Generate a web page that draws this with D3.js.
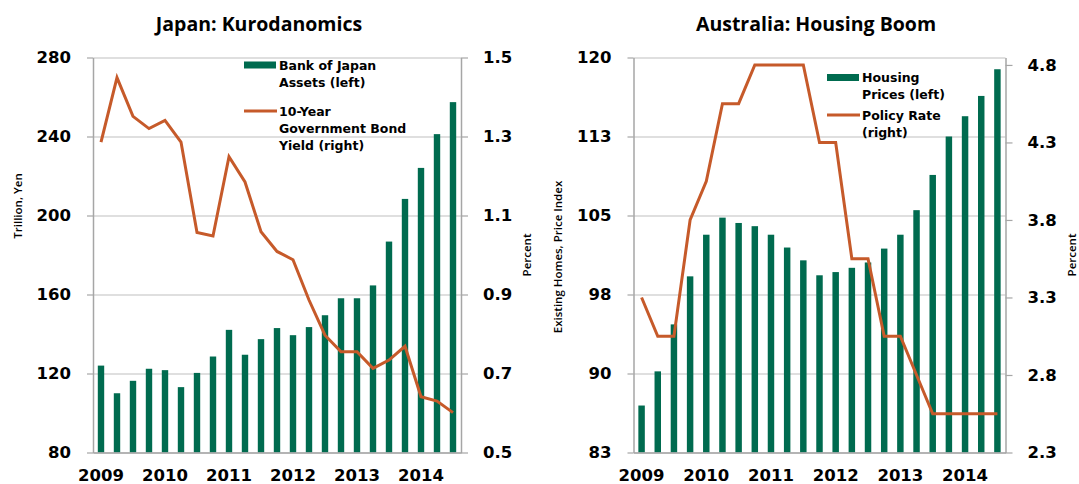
<!DOCTYPE html>
<html>
<head>
<meta charset="utf-8">
<script src="https://cdn.jsdelivr.net/npm/d3@7"></script>
<style>
  html, body { margin: 0; padding: 0; background: #ffffff; }
  svg { display: block; }
</style>
</head>
<body>
<svg id="chart" width="1079" height="484"></svg>
<script>
// ---------------- DATA ----------------
const quarters = ["2009Q1","2009Q2","2009Q3","2009Q4","2010Q1","2010Q2","2010Q3","2010Q4",
  "2011Q1","2011Q2","2011Q3","2011Q4","2012Q1","2012Q2","2012Q3","2012Q4",
  "2013Q1","2013Q2","2013Q3","2013Q4","2014Q1","2014Q2","2014Q3"];
const yearTickQuarters = ["2009Q1","2010Q1","2011Q1","2012Q1","2013Q1","2014Q1"];
const yearLabels = ["2009","2010","2011","2012","2013","2014"];

// Japan
const japanAssets = [124, 110, 116.3, 122.4, 121.7, 113.1, 120.3, 128.6, 142.1, 129.5, 137.4, 143,
  139.4, 143.5, 149.5, 158.1, 158.1, 164.6, 186.8, 208.4, 224.1, 241.2, 257.4];
const japanYield = [1.286, 1.449, 1.351, 1.320, 1.341, 1.286, 1.057, 1.048, 1.249, 1.185, 1.059, 1.009,
  0.988, 0.886, 0.797, 0.755, 0.755, 0.713, 0.734, 0.769, 0.641, 0.630, 0.601];
const japanLeftTicks = [80, 120, 160, 200, 240, 280];
const japanLeftLabels = ["80", "120", "160", "200", "240", "280"];
const japanRightTicks = [0.5, 0.7, 0.9, 1.1, 1.3, 1.5];
const japanRightLabels = ["0.5", "0.7", "0.9", "1.1", "1.3", "1.5"];

// Australia
const ausPrices = [87.4, 90.6, 95.0, 99.5, 103.4, 105.0, 104.5, 104.2, 103.4, 102.2, 101.0, 99.6,
  99.9, 100.3, 100.8, 102.1, 103.4, 105.7, 109.0, 112.6, 114.5, 116.4, 118.9];
const ausRate = [3.3, 3.05, 3.05, 3.8, 4.05, 4.55, 4.55, 4.8, 4.8, 4.8, 4.8, 4.3,
  4.3, 3.55, 3.55, 3.05, 3.05, 2.8, 2.55, 2.55, 2.55, 2.55, 2.55];
const ausLeftTicks = [83, 90.4, 97.8, 105.2, 112.6, 120];
const ausLeftLabels = ["83", "90", "98", "105", "113", "120"];
const ausRightTicks = [2.3, 2.8, 3.3, 3.8, 4.3, 4.8];
const ausRightLabels = ["2.3", "2.8", "3.3", "3.8", "4.3", "4.8"];

// ---------------- STYLE ----------------
const BAR = "#006b4f";
const LINE = "#c65a2a";
const GRID = "#c0c0c0";
const AXIS = "#a6a6a6";
const NUMFONT = "'DejaVu Sans', Verdana, sans-serif";
const TXTFONT = "'Open Sans', sans-serif";

const svg = d3.select("#chart");

function panel(cfg) {
  const g = svg.append("g");
  const x = d3.scaleBand().domain(quarters).range([cfg.x0, cfg.x1])
    .paddingInner(0.6).paddingOuter(0.3);
  const yL = d3.scaleLinear().domain(cfg.leftDomain).range([cfg.y1, cfg.y0]);
  const yR = d3.scaleLinear().domain(cfg.rightDomain).range([cfg.y1, cfg.y0]);
  const w = cfg.x1 - cfg.x0;

  // gridlines
  const grid = g.append("g").attr("transform", `translate(${cfg.x0},0)`)
    .call(d3.axisLeft(yL).tickValues(cfg.leftTicks).tickSize(-w).tickFormat(""));
  grid.select(".domain").remove();
  grid.selectAll("line").attr("stroke", GRID).attr("stroke-width", 1.2);

  // bars
  g.append("g").selectAll("rect").data(cfg.bars).join("rect")
    .attr("x", (d, i) => x(quarters[i]))
    .attr("width", x.bandwidth())
    .attr("y", d => yL(d))
    .attr("height", d => yL(cfg.leftDomain[0]) - yL(d))
    .attr("fill", BAR);

  // bottom axis line
  const xa = g.append("g").attr("transform", `translate(0,${cfg.y1})`)
    .call(d3.axisBottom(x).tickValues(yearTickQuarters)
      .tickFormat((d) => yearLabels[yearTickQuarters.indexOf(d)])
      .tickSize(0).tickPadding(17).tickSizeOuter(0));
  xa.select(".domain").attr("stroke", AXIS).attr("stroke-width", 1.5);
  xa.selectAll("text").attr("font-family", NUMFONT).attr("font-weight", "bold")
    .attr("font-size", 16.5).attr("fill", "#000");

  // left axis
  const la = g.append("g").attr("transform", `translate(${cfg.x0},0)`)
    .call(d3.axisLeft(yL).tickValues(cfg.leftTicks)
      .tickFormat((d, i) => cfg.leftLabels[i]).tickSize(6).tickPadding(16).tickSizeOuter(0));
  la.select(".domain").attr("stroke", AXIS).attr("stroke-width", 1.5);
  la.selectAll("line").attr("stroke", AXIS).attr("stroke-width", 1.2);
  la.selectAll("text").attr("font-family", NUMFONT).attr("font-weight", "bold")
    .attr("font-size", 16.5).attr("fill", "#000");

  // right axis
  const ra = g.append("g").attr("transform", `translate(${cfg.x1},0)`)
    .call(d3.axisRight(yR).tickValues(cfg.rightTicks)
      .tickFormat((d, i) => cfg.rightLabels[i]).tickSize(7).tickPadding(15).tickSizeOuter(0));
  ra.select(".domain").attr("stroke", AXIS).attr("stroke-width", 1.5);
  ra.selectAll("line").attr("stroke", AXIS).attr("stroke-width", 1.2);
  ra.selectAll("text").attr("font-family", NUMFONT).attr("font-weight", "bold")
    .attr("font-size", 16.5).attr("fill", "#000");

  // line
  const line = d3.line()
    .x((d, i) => x(quarters[i]) + x.bandwidth() / 2)
    .y(d => yR(d));
  g.append("path").datum(cfg.line)
    .attr("d", line).attr("fill", "none")
    .attr("stroke", LINE).attr("stroke-width", 3).attr("stroke-linejoin", "miter");

  // title
  g.append("text").attr("x", cfg.titleX).attr("y", 31)
    .attr("text-anchor", "middle").attr("font-family", TXTFONT)
    .attr("font-weight", "bold").attr("font-size", 19.5).attr("fill", "#000")
    .text(cfg.title);

  // axis titles
  g.append("text").attr("transform", `translate(${cfg.leftTitleX},${cfg.leftTitleY}) rotate(-90)`)
    .attr("text-anchor", "middle").attr("font-family", TXTFONT).attr("font-weight", 600)
    .attr("font-size", 11.5).attr("fill", "#000").text(cfg.leftTitle);
  g.append("text").attr("transform", `translate(${cfg.rightTitleX},${cfg.rightTitleY}) rotate(-90)`)
    .attr("text-anchor", "middle").attr("font-family", TXTFONT).attr("font-weight", 600)
    .attr("font-size", 11.5).attr("fill", "#000").text(cfg.rightTitle);

  // legend
  const lg = g.append("g");
  lg.append("rect").attr("x", cfg.legX).attr("y", cfg.legBarY - 3.5)
    .attr("width", 32).attr("height", 7).attr("fill", BAR);
  cfg.legBarText.forEach((t, i) => {
    lg.append("text").attr("x", cfg.legX + 35).attr("y", cfg.legBarY + 4.5 + i * 17)
      .attr("font-family", NUMFONT).attr("font-weight", "bold").attr("font-size", 12.5)
      .attr("fill", "#000").text(t);
  });
  lg.append("line").attr("x1", cfg.legX).attr("x2", cfg.legX + 33)
    .attr("y1", cfg.legLineY).attr("y2", cfg.legLineY)
    .attr("stroke", LINE).attr("stroke-width", 3);
  cfg.legLineText.forEach((t, i) => {
    lg.append("text").attr("x", cfg.legX + 35).attr("y", cfg.legLineY + 4.5 + i * 17)
      .attr("font-family", NUMFONT).attr("font-weight", "bold").attr("font-size", 12.5)
      .attr("fill", "#000").text(t);
  });
}

panel({
  x0: 93, x1: 461, y0: 57.5, y1: 452.5,
  leftDomain: [80, 280], rightDomain: [0.5, 1.5],
  leftTicks: japanLeftTicks, leftLabels: japanLeftLabels,
  rightTicks: japanRightTicks, rightLabels: japanRightLabels,
  bars: japanAssets, line: japanYield,
  title: "Japan: Kurodanomics", titleX: 259,
  leftTitle: "Trillion, Yen", leftTitleX: 22, leftTitleY: 206,
  rightTitle: "Percent", rightTitleX: 531, rightTitleY: 255,
  legX: 244, legBarY: 65, legLineY: 111,
  legBarText: ["Bank of Japan", "Assets (left)"],
  legLineText: ["10-Year", "Government Bond", "Yield (right)"]
});

panel({
  x0: 633.5, x1: 1005.5, y0: 57.5, y1: 452.5,
  leftDomain: [83, 120], rightDomain: [2.3, 4.848],
  leftTicks: ausLeftTicks, leftLabels: ausLeftLabels,
  rightTicks: ausRightTicks, rightLabels: ausRightLabels,
  bars: ausPrices, line: ausRate,
  title: "Australia: Housing Boom", titleX: 816,
  leftTitle: "Existing Homes, Price Index", leftTitleX: 562, leftTitleY: 257,
  rightTitle: "Percent", rightTitleX: 1076, rightTitleY: 255,
  legX: 827, legBarY: 77.5, legLineY: 115,
  legBarText: ["Housing", "Prices (left)"],
  legLineText: ["Policy Rate", "(right)"]
});
</script>
</body>
</html>
